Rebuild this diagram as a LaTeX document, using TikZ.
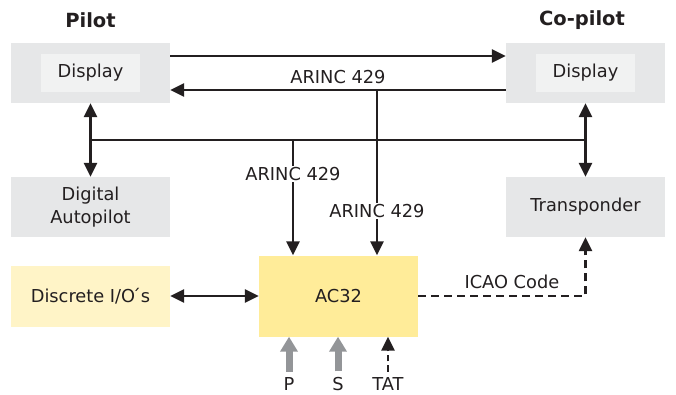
\documentclass[tikz,border=0pt]{standalone}
\usepackage{fontspec}
\setmainfont{DejaVu Sans}
\usetikzlibrary{arrows.meta}
\definecolor{ink}{HTML}{231F20}
\definecolor{boxgray}{HTML}{E6E7E8}
\definecolor{innergray}{HTML}{F1F2F2}
\definecolor{acyellow}{HTML}{FFEC99}
\definecolor{ioyellow}{HTML}{FFF4C7}
\definecolor{sensgray}{HTML}{939598}
\begin{document}
\begin{tikzpicture}[x=1pt,y=-1pt,>={Triangle[length=14pt,width=13pt]},
  every node/.style={text=ink,font=\fontsize{17.8}{23}\selectfont},
  unit/.style={fill=boxgray,minimum width=159pt,minimum height=60pt,inner sep=0pt,align=center},
  screen/.style={fill=innergray,minimum width=99pt,minimum height=38pt,inner sep=0pt},
  seat/.style={font=\fontsize{19.5}{21}\selectfont\bfseries},
  bus/.style={draw=ink,line width=2.5pt},
  tag/.style={fill=white,inner sep=1pt},
  sensor/.style={draw=sensgray,line width=7pt,-{Triangle[length=15pt,width=17pt]}}]
\useasboundingbox (0,0) rectangle (676,394);
% boxes
\node[unit] (pd) at (90.5,73) {};
\node[screen] (pds) at (pd) {Display};
\node[unit] (cd) at (585.5,73) {};
\node[screen] (cds) at (cd) {Display};
\node[seat] (pilot) at (90.5,20) {Pilot};
\node[seat] (copilot) at (582,20) {Co-pilot};
\node[unit] (ap) at (90.5,207) {Digital\\Autopilot};
\node[unit] (tr) at (585.5,207) {Transponder};
\node[unit,fill=ioyellow,minimum height=61pt] (io) at (90.5,296) {Discrete I/O\'{}s};
\node[unit,fill=acyellow,minimum height=81pt] (ac) at (338.5,296) {AC32};
% buses
\coordinate (b1) at (91,140);
\coordinate (b2) at (584,140);
\coordinate (b3) at (293,140);
\coordinate (a2) at (377,90);
\draw[bus,->] ([yshift=17pt]pd.east) -- ([yshift=17pt]cd.west);
\draw[bus,->] ([yshift=-17pt]cd.west) -- ([yshift=-17pt]pd.east)
  node[midway,above=2pt] (arinc1) {ARINC 429};
\draw[bus] (b1) -- (b2);
\draw[bus,<->] (pd.south) -- (ap.north);
\draw[bus,<->] (cd.south) -- (tr.north);
\draw[bus,->] (b3) -- (b3 |- ac.north);
\draw[bus,->] (a2) -- (a2 |- ac.north);
\node[tag] (arinc2) at (293,174) {ARINC 429};
\node[tag] (arinc3) at (377,211) {ARINC 429};
\draw[bus,<->] (io.east) -- (ac.west);
\draw[bus,->,dash pattern=on 8pt off 5pt] (ac.east) -| (tr.south)
  node[pos=0.28,above=3pt] (icao) {ICAO Code};
% sensors
\node[anchor=base] (p) at (289,390) {P};
\node[anchor=base] (s) at (338,390) {S};
\node[anchor=base] (tat) at (388,390) {TAT};
\draw[sensor] ([yshift=2pt]p.north) -- (p |- ac.south);
\draw[sensor] ([yshift=2pt]s.north) -- (s |- ac.south);
\draw[bus,->,dash pattern=on 6pt off 4pt] ([yshift=2pt]tat.north) -- (tat |- ac.south);
\end{tikzpicture}
\end{document}
